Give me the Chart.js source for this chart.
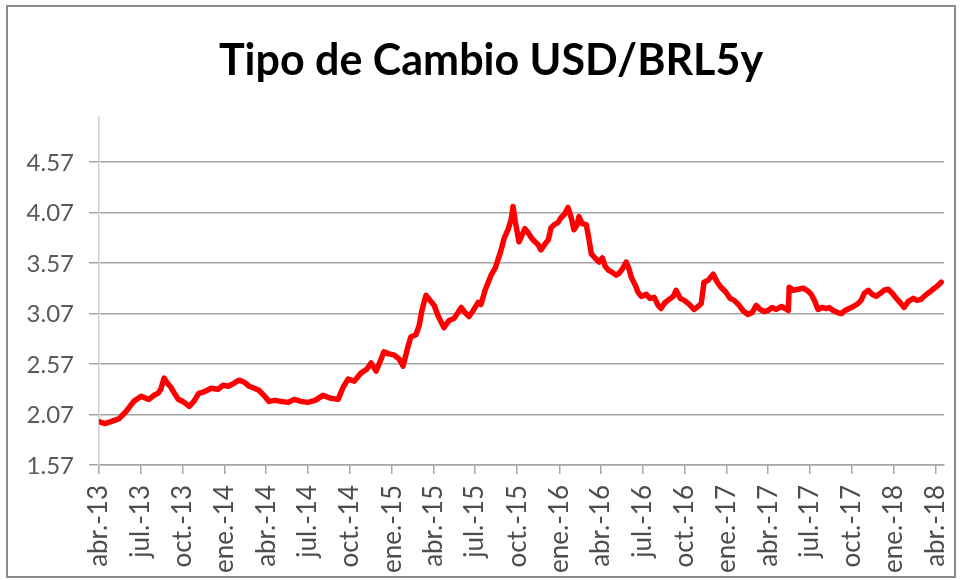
<!DOCTYPE html>
<html>
<head>
<meta charset="utf-8">
<script src="https://cdn.jsdelivr.net/npm/chart.js@4.4.1/dist/chart.umd.min.js"></script>
<style>
    html, body { margin: 0; padding: 0; background: #fff; }
    #frame { position: absolute; left: 6px; top: 5px; width: 946px; height: 569px; border: 2px solid #8a8a8a; }
    canvas { display: block; }
</style>
</head>
<body>
<div id="frame"><canvas id="fx" width="946" height="569"></canvas></div>
<script>
const TITLE = 'Tipo de Cambio USD/BRL5y';

const tickLabels = [
    'abr.-13', 'jul.-13', 'oct.-13', 'ene.-14', 'abr.-14', 'jul.-14', 'oct.-14',
    'ene.-15', 'abr.-15', 'jul.-15', 'oct.-15', 'ene.-16', 'abr.-16', 'jul.-16',
    'oct.-16', 'ene.-17', 'abr.-17', 'jul.-17', 'oct.-17', 'ene.-18', 'abr.-18',
];

const yTicks = [1.57, 2.07, 2.57, 3.07, 3.57, 4.07, 4.57];

const dates = [
    '2013-04-01', '2013-04-14', '2013-04-27', '2013-05-15', '2013-05-30', '2013-06-16', '2013-07-02', '2013-07-19',
    '2013-07-30', '2013-08-08', '2013-08-14', '2013-08-21', '2013-08-30', '2013-09-05', '2013-09-14', '2013-09-21',
    '2013-10-01', '2013-10-15', '2013-10-25', '2013-11-05', '2013-11-19', '2013-12-02', '2013-12-17', '2013-12-28',
    '2014-01-08', '2014-01-21', '2014-02-01', '2014-02-12', '2014-02-23', '2014-03-06', '2014-03-16', '2014-03-27',
    '2014-04-07', '2014-04-20', '2014-05-03', '2014-05-19', '2014-06-01', '2014-06-16', '2014-07-01', '2014-07-17',
    '2014-08-03', '2014-08-21', '2014-09-05', '2014-09-16', '2014-09-27', '2014-10-10', '2014-10-25', '2014-11-07',
    '2014-11-16', '2014-11-27', '2014-12-08', '2014-12-14', '2014-12-25', '2015-01-05', '2015-01-16', '2015-01-25',
    '2015-02-05', '2015-02-11', '2015-02-22', '2015-03-01', '2015-03-07', '2015-03-16', '2015-03-25', '2015-04-03',
    '2015-04-11', '2015-04-24', '2015-05-05', '2015-05-16', '2015-05-25', '2015-06-01', '2015-06-09', '2015-06-18',
    '2015-06-27', '2015-07-08', '2015-07-14', '2015-07-23', '2015-08-05', '2015-08-14', '2015-08-20', '2015-08-27',
    '2015-09-03', '2015-09-11', '2015-09-18', '2015-09-22', '2015-09-27', '2015-10-01', '2015-10-05', '2015-10-12',
    '2015-10-18', '2015-10-25', '2015-11-01', '2015-11-09', '2015-11-16', '2015-11-22', '2015-12-01', '2015-12-08',
    '2015-12-14', '2015-12-21', '2015-12-29', '2016-01-05', '2016-01-12', '2016-01-20', '2016-01-27', '2016-02-02',
    '2016-02-09', '2016-02-13', '2016-02-20', '2016-02-29', '2016-03-06', '2016-03-11', '2016-03-19', '2016-03-28',
    '2016-04-04', '2016-04-10', '2016-04-17', '2016-04-25', '2016-05-04', '2016-05-11', '2016-05-19', '2016-05-26',
    '2016-06-02', '2016-06-06', '2016-06-15', '2016-06-21', '2016-06-28', '2016-07-09', '2016-07-17', '2016-07-26',
    '2016-08-04', '2016-08-10', '2016-08-19', '2016-08-28', '2016-09-06', '2016-09-12', '2016-09-21', '2016-09-30',
    '2016-10-11', '2016-10-21', '2016-10-30', '2016-11-06', '2016-11-12', '2016-11-21', '2016-12-02', '2016-12-11',
    '2016-12-19', '2016-12-30', '2017-01-08', '2017-01-17', '2017-01-26', '2017-02-05', '2017-02-16', '2017-02-25',
    '2017-03-06', '2017-03-15', '2017-03-23', '2017-04-01', '2017-04-10', '2017-04-19', '2017-04-30', '2017-05-08',
    '2017-05-15', '2017-05-17', '2017-05-26', '2017-06-06', '2017-06-17', '2017-06-25', '2017-07-04', '2017-07-11',
    '2017-07-19', '2017-07-28', '2017-08-06', '2017-08-12', '2017-08-21', '2017-08-30', '2017-09-08', '2017-09-16',
    '2017-09-25', '2017-10-04', '2017-10-12', '2017-10-21', '2017-10-28', '2017-11-06', '2017-11-14', '2017-11-23',
    '2017-12-02', '2017-12-10', '2017-12-19', '2017-12-28', '2018-01-06', '2018-01-14', '2018-01-23', '2018-02-01',
    '2018-02-12', '2018-02-20', '2018-03-01', '2018-03-10', '2018-03-19', '2018-03-27', '2018-04-05', '2018-04-14',
];

const usdBrl = [
    2.00, 1.98, 2.00, 2.03, 2.10, 2.20, 2.25, 2.22,
    2.26, 2.28, 2.32, 2.43, 2.37, 2.34, 2.27, 2.22,
    2.20, 2.15, 2.20, 2.28, 2.30, 2.33, 2.32, 2.36,
    2.35, 2.38, 2.41, 2.39, 2.35, 2.33, 2.31, 2.26,
    2.20, 2.21, 2.20, 2.19, 2.22, 2.20, 2.19, 2.21,
    2.26, 2.23, 2.22, 2.34, 2.42, 2.40, 2.48, 2.52,
    2.58, 2.50, 2.62, 2.69, 2.67, 2.66, 2.62, 2.55,
    2.75, 2.84, 2.86, 2.95, 3.10, 3.25, 3.20, 3.15,
    3.05, 2.93, 3.00, 3.02, 3.08, 3.13, 3.08, 3.04,
    3.10, 3.18, 3.16, 3.30, 3.45, 3.52, 3.60, 3.70,
    3.82, 3.90, 4.00, 4.13, 3.98, 3.88, 3.78, 3.85,
    3.91, 3.87, 3.82, 3.78, 3.75, 3.70, 3.76, 3.80,
    3.92, 3.95, 3.97, 4.02, 4.05, 4.12, 4.02, 3.90,
    3.95, 4.03, 3.96, 3.95, 3.80, 3.66, 3.62, 3.58,
    3.62, 3.54, 3.50, 3.48, 3.45, 3.47, 3.52, 3.58,
    3.50, 3.43, 3.35, 3.28, 3.24, 3.26, 3.22, 3.23,
    3.15, 3.12, 3.18, 3.21, 3.24, 3.30, 3.22, 3.20,
    3.16, 3.11, 3.14, 3.17, 3.38, 3.40, 3.46, 3.38,
    3.33, 3.28, 3.22, 3.20, 3.16, 3.10, 3.06, 3.08,
    3.15, 3.11, 3.09, 3.10, 3.13, 3.11, 3.14, 3.12,
    3.10, 3.33, 3.30, 3.31, 3.32, 3.30, 3.26, 3.20,
    3.11, 3.13, 3.12, 3.13, 3.10, 3.08, 3.07, 3.10,
    3.12, 3.14, 3.16, 3.20, 3.27, 3.30, 3.26, 3.24,
    3.27, 3.30, 3.31, 3.27, 3.22, 3.18, 3.13, 3.19,
    3.22, 3.20, 3.21, 3.25, 3.28, 3.31, 3.34, 3.38,
];

// days since the first tick (1 Apr 2013)
const ORIGIN = Date.UTC(2013, 3, 1);
const dayOf = (iso) => {
    const [y, m, d] = iso.split('-').map(Number);
    return (Date.UTC(y, m - 1, d) - ORIGIN) / 864e5;
};
const tickDays = tickLabels.map((_, i) => (Date.UTC(2013, 3 + 3 * i, 1) - ORIGIN) / 864e5);

const points = dates.map((d, i) => ({ x: dayOf(d), y: usdBrl[i] }));

const GRID = '#a6a6a6';
const TEXT = '#595959';
const FONT = 'Lato, "Open Sans", sans-serif';

// y labels placed from the scale, right-aligned with a gap before the tick marks
const yLabels = {
    id: 'yLabels',
    afterDraw(chart) {
        const { ctx, chartArea, scales: { y } } = chart;
        ctx.save();
        ctx.font = `24px ${FONT}`;
        ctx.fillStyle = TEXT;
        ctx.textAlign = 'right';
        ctx.textBaseline = 'middle';
        yTicks.forEach((v) => ctx.fillText(v.toFixed(2), chartArea.left - 25, y.getPixelForValue(v) + 1));
        ctx.restore();
    },
};

new Chart(document.getElementById('fx').getContext('2d'), {
    type: 'line',
    plugins: [yLabels],
    data: {
        datasets: [{
            data: points,
            borderColor: '#ff0000',
            borderWidth: 5.5,
            pointRadius: 0,
            tension: 0,
            borderJoinStyle: 'round',
            borderCapStyle: 'round',
        }],
    },
    options: {
        responsive: false,
        animation: false,
        layout: { padding: { left: 30, right: 10, top: 0, bottom: 0 } },
        plugins: {
            legend: { display: false },
            tooltip: { enabled: false },
            title: {
                display: true,
                text: TITLE,
                color: '#000',
                font: { family: FONT, size: 43, weight: 'bold', lineHeight: 1.2 },
                padding: { top: 28, bottom: 30 },
            },
        },
        scales: {
            x: {
                type: 'linear',
                min: 0,
                max: 1845,
                afterBuildTicks: (axis) => { axis.ticks = tickDays.map((v) => ({ value: v })); },
                afterFit: (axis) => {
                    axis.height = 111;
                    axis.paddingLeft = 0;
                    axis.paddingRight = 0;
                },
                grid: { drawOnChartArea: false, drawTicks: true, tickLength: 9, color: GRID, lineWidth: 1.5 },
                border: { color: GRID, width: 1.5 },
                ticks: {
                    autoSkip: false,
                    minRotation: 90,
                    maxRotation: 90,
                    padding: 11,
                    color: '#4d4d4d',
                    font: { family: FONT, size: 26 },
                    callback: (v, i) => tickLabels[i],
                },
            },
            y: {
                min: 1.57,
                max: 5.02,
                afterBuildTicks: (axis) => { axis.ticks = yTicks.map((v) => ({ value: v })); },
                afterFit: (axis) => { axis.width = 61; },
                grid: { color: GRID, lineWidth: 1.5, tickLength: 10 },
                border: { color: '#d0d0d0', width: 1.5 },
                ticks: { display: false },
            },
        },
    },
});
</script>
</body>
</html>
